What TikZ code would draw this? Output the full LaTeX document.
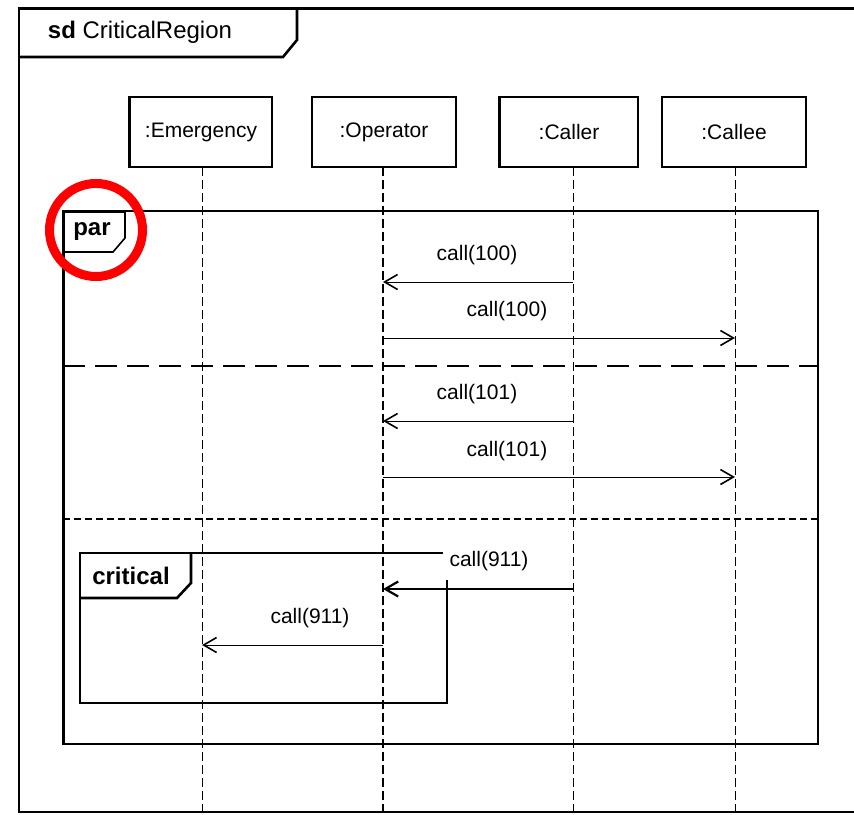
\documentclass[tikz,border=0pt]{standalone}
\usepackage{fontspec}
\setmainfont{Liberation Sans}
\usetikzlibrary{arrows.meta}
\begin{document}
\begin{tikzpicture}[x=1pt,y=-1pt,
  head/.style={draw, line width=1.2pt, minimum height=70pt, font=\fontsize{21}{25}\selectfont, inner sep=0pt},
  life/.style={dash pattern=on 9pt off 4pt, line width=1pt},
  lifethick/.style={dash pattern=on 9pt off 4pt, line width=2.6pt},
  msg/.style={line width=1pt, -{Straight Barb[length=13pt,width=15pt,line width=1.6pt]}},
  msgthick/.style={line width=2.6pt, -{Straight Barb[length=13pt,width=15pt,line width=2.2pt]}},
  lbl/.style={font=\fontsize{21}{25}\selectfont, inner sep=0pt},
  taglbl/.style={font=\fontsize{24}{28}\selectfont\bfseries, inner sep=0pt},
  frameline/.style={line width=2.6pt, line join=miter},
]
\useasboundingbox (0,0) rectangle (854,814);
\clip (0,0) rectangle (854,814);
\fill[white] (0,0) rectangle (854,814);

% outer frame
\draw[line width=1.4pt] (19,8) -- (19,812) -- (870,812);
\draw[line width=3pt] (17.5,8) -- (870,8);
\draw[frameline] (19,57) -- (283,57) -- (297,40) -- (297,8);
\node[font=\fontsize{24}{28}\selectfont, inner sep=0pt] (title) at (140,32) {\textbf{sd} CriticalRegion};

% lifeline heads
\node[head, minimum width=142pt] (emg) at (201,132) {:Emergency};
\node[head, minimum width=144pt] (opr) at (384,132) {:Operator};
\node[head, minimum width=138pt] (clr) at (569,132) {:Caller};
\node[head, minimum width=144pt] (cle) at (734,132) {:Callee};
\draw[line width=2.2pt] (emg.south west) -- (emg.north west);
\draw[line width=2.2pt] (clr.south west) -- (clr.north west);

% lifelines
\coordinate (emgT) at (202,167); \coordinate (emgB) at (202,814);
\coordinate (oprT) at (383,167); \coordinate (oprB) at (383,814);
\coordinate (clrT) at (573,167); \coordinate (clrB) at (573,814);
\coordinate (cleT) at (735,167); \coordinate (cleB) at (735,814);
\draw[life] (emgT) -- (emgB);
\draw[lifethick] (oprT) -- (oprB);
\draw[life] (clrT) -- (clrB);
\draw[life] (cleT) -- (cleB);

% par frame
\draw[line width=1.5pt] (63,211) rectangle (818,744);
\draw[line width=3pt] (63,210) -- (63,745);
\draw[line width=1.6pt] (63,212) -- (125,212) -- (125,238) -- (113,252) -- (63,252);
\node[taglbl] (par) at (92,232) {par};

% separators
\draw[line width=2.6pt, dash pattern=on 22pt off 10pt] (63,366) -- (818,366);
\draw[line width=2.6pt, dash pattern=on 7pt off 4pt] (63,519) -- (818,519);

% messages
\coordinate (m1s) at (573,282); \coordinate (m1e) at (383,282);
\draw[msg] (m1s) -- (m1e);
\node[lbl] (l1) at (477,255) {call(100)};
\coordinate (m2s) at (383,338); \coordinate (m2e) at (735,338);
\draw[msg] (m2s) -- (m2e);
\node[lbl] (l2) at (507,311) {call(100)};
\coordinate (m3s) at (573,421); \coordinate (m3e) at (383,421);
\draw[msg] (m3s) -- (m3e);
\node[lbl] (l3) at (477,394) {call(101)};
\coordinate (m4s) at (383,477); \coordinate (m4e) at (735,477);
\draw[msg] (m4s) -- (m4e);
\node[lbl] (l4) at (507,451) {call(101)};
\coordinate (m5s) at (573,589); \coordinate (m5e) at (383,589);
\draw[msgthick] (m5s) -- (m5e);
\node[lbl] (l5) at (489,561) {call(911)};
\coordinate (m6s) at (383,645); \coordinate (m6e) at (202,645);
\draw[msg] (m6s) -- (m6e);
\node[lbl] (l6) at (310,618) {call(911)};

% critical frame
\draw[frameline] (443,553) -- (80,553) -- (80,703) -- (447,703) -- (447,580);
\draw[frameline] (191,553) -- (191,583) -- (177,598) -- (80,598);
\node[taglbl] (crit) at (131,576) {critical};

% red highlight circle
\draw[red, line width=9pt] (96,230) circle (46.5pt);
\end{tikzpicture}
\end{document}
